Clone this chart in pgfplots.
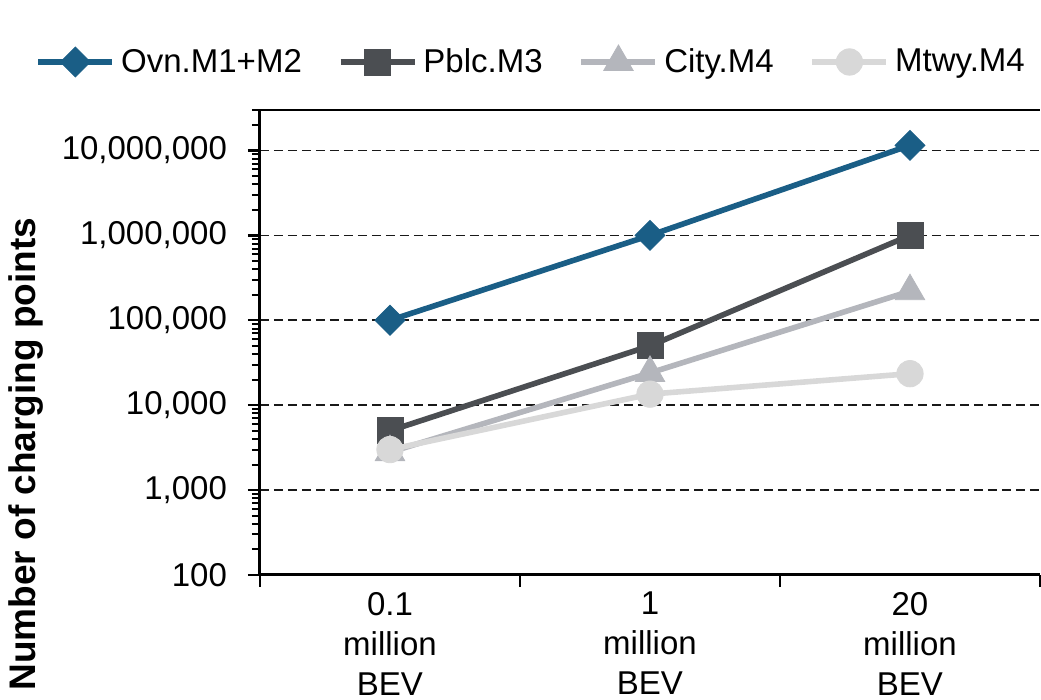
\documentclass[border=0pt]{standalone}
\usepackage{fontspec}
\setmainfont{Liberation Sans}
\usepackage{pgfplots}
\pgfplotsset{compat=1.18}
\definecolor{cOvn}{HTML}{1A5E86}
\definecolor{cPblc}{HTML}{4B4E52}
\definecolor{cCity}{HTML}{B4B6BC}
\definecolor{cMtwy}{HTML}{D8D8D8}
\begin{document}
\begin{tikzpicture}
\begin{axis}[
  scale only axis,
  width=390pt, height=232.5pt,
  ymode=log, ymin=100, ymax=3e7,
  xmin=-0.5, xmax=2.5,
  axis lines=left,
  axis line style={line width=1.5pt, -},
  ytick={100,1000,10000,100000,1000000,10000000},
  yticklabels={100,{1,000},{10,000},{100,000},{1,000,000},{10,000,000}},
  minor ytick={200,300,400,500,600,700,800,900,2000,3000,4000,5000,6000,7000,8000,9000,20000,30000,40000,50000,60000,70000,80000,90000,200000,300000,400000,500000,600000,700000,800000,900000,2000000,3000000,4000000,5000000,6000000,7000000,8000000,9000000,20000000,30000000},
  xtick={-0.5,0.5,1.5,2.5},
  xticklabels={{0.1\\million\\BEV},{1\\million\\BEV},{20\\million\\BEV}},
  x tick label as interval,
  tick align=outside,
  major tick length=6pt,
  minor tick length=4pt,
  every tick/.style={black, line width=1.2pt},
  minor tick style={black, line width=1pt},
  /pgf/number format/assume math mode=true,
  yticklabel style={font=\fontsize{16.5}{19}\selectfont, xshift=-7pt},
  xticklabel style={font=\fontsize{16.5}{20}\selectfont, align=center, yshift=1pt},
  ymajorgrids,
  major grid style={black!90, line width=0.8pt, dash pattern=on 4.5pt off 2.5pt},
  ylabel={\bfseries Number of charging points},
  ylabel style={font=\fontsize{18.5}{21}\selectfont, at={(rel axis cs:0,0.26)}, anchor=center, yshift=117pt},
  legend columns=4,
  legend style={draw=none, at={(rel axis cs:0.349,1)}, anchor=center, yshift=24pt,
    font=\fontsize{16.5}{19}\selectfont,
    /tikz/every odd column/.append style={column sep=1pt},
    /tikz/every even column/.append style={column sep=16pt}},
  legend image code/.code={\draw[mark repeat=2,mark phase=2,#1] plot coordinates {(0pt,0pt)(18.5pt,0pt)(37pt,0pt)};},
]
\addplot[cOvn, line width=2.8pt, mark=square*, mark size=5.3pt, mark options={solid, rotate=45, fill=cOvn, line width=0.4pt}]
  coordinates {(0,100000) (1,1000000) (2,11500000)};
\addlegendentry{Ovn.M1+M2}
\addplot[cPblc, line width=2.8pt, mark=square*, mark size=6.5pt, mark options={solid, fill=cPblc, line width=0.4pt}]
  coordinates {(0,5000) (1,50000) (2,1000000)};
\addlegendentry{Pblc.M3}
\addplot[cCity, line width=2.8pt, mark=triangle*, mark size=8.5pt, mark options={solid, fill=cCity, line width=0.4pt}]
  coordinates {(0,2800) (1,24000) (2,220000)};
\addlegendentry{City.M4}
\addplot[cMtwy, line width=2.8pt, mark=*, mark size=6.6pt, mark options={solid, fill=cMtwy, line width=0.4pt}]
  coordinates {(0,3000) (1,13500) (2,23500)};
\addlegendentry{Mtwy.M4}
\draw[line width=1.5pt] (rel axis cs:0,1) -- (rel axis cs:1,1);
\end{axis}
\pgfresetboundingbox
\useasboundingbox (-130pt,-62.5pt) rectangle (390.5pt,287.5pt);
\end{tikzpicture}
\end{document}
